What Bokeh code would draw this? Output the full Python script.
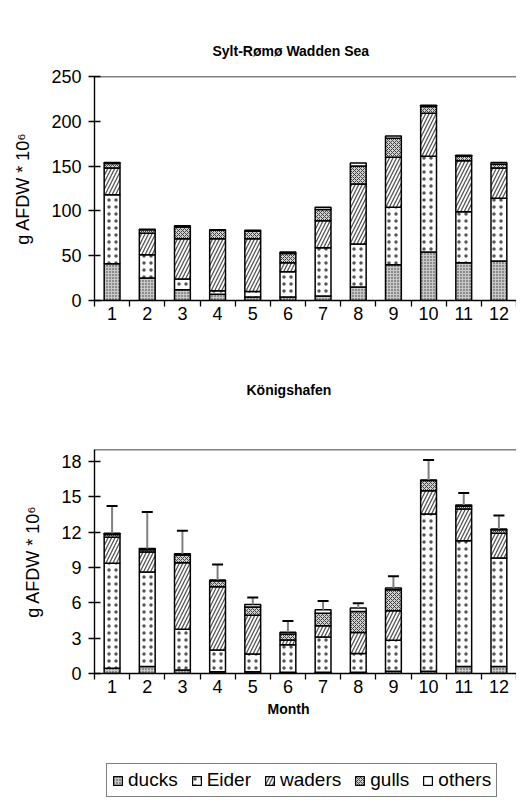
from bokeh.plotting import figure
from bokeh.models import (ColumnDataSource, Range1d, FixedTicker, Title,
                          Span, Legend, LegendItem, Whisker, TeeHead)
from bokeh.layouts import column
from bokeh.embed import file_html
from bokeh.resources import INLINE

months = [1, 2, 3, 4, 5, 6, 7, 8, 9, 10, 11, 12]
groups = ["ducks", "Eider", "waders", "gulls", "others"]

# Sylt-Rømø Wadden Sea (g AFDW * 10^6)
top_ducks = [41, 25, 12, 7, 4, 4, 5, 15, 40, 54, 42, 44]
top_eider = [77, 26, 12, 4, 6, 28, 54, 48, 64, 107, 57, 70]
top_waders = [30, 24, 45, 58, 59, 10, 30, 67, 56, 48, 57, 34]
top_gulls = [5, 4, 13, 9.5, 8.5, 10.5, 12.5, 20, 21, 7.5, 5, 4]
top_others = [1, 0.5, 1.5, 0.5, 1, 1.5, 2.5, 3.5, 2.5, 1.5, 1, 2]

# Königshafen (g AFDW * 10^6)
bot_ducks = [0.45, 0.6, 0.3, 0.15, 0.15, 0.1, 0.1, 0.1, 0.2, 0.2, 0.6, 0.6]
bot_eider = [8.9, 8.0, 3.45, 1.85, 1.5, 2.34, 3.0, 1.6, 2.63, 13.33, 10.66, 9.2]
bot_waders = [2.2, 1.7, 5.65, 5.36, 3.3, 0.4, 0.95, 1.78, 2.49, 1.97, 2.69, 2.1]
bot_gulls = [0.25, 0.2, 0.65, 0.5, 0.7, 0.5, 1.05, 1.78, 1.78, 0.86, 0.25, 0.3]
bot_others = [0.1, 0.1, 0.1, 0.07, 0.2, 0.15, 0.3, 0.29, 0.15, 0.06, 0.1, 0.05]
bot_sd = [2.3, 3.1, 1.95, 1.32, 0.6, 0.96, 0.75, 0.4, 1.0, 1.68, 1.0, 1.15]

top_ticks = [0, 50, 100, 150, 200, 250]
bot_ticks = [0, 3, 6, 9, 12, 15, 18]

FONT = "Liberation Sans"
fills = ["#c8c8c8", "white", "white", "#cfcfcf", "white"]
hatches = ["dot", "dot", "right_diagonal_line", "diagonal_cross", " "]
hatch_colors = ["#333333", "#555555", "#555555", "#444444", "black"]
hatch_scales = [3, 7, 7, 4, 12]
hatch_weights = [1.2, 0.7, 1.3, 1.0, 1.0]
style = dict(fill_color=fills, hatch_pattern=hatches, hatch_color=hatch_colors,
             hatch_scale=hatch_scales, hatch_weight=hatch_weights)

xs = [m - 0.5 for m in months]
bounds = [0] + months


def make_fig(height, ymax, ticks, vals, border_top, border_bottom):
    p = figure(width=516, height=height, output_backend="svg", toolbar_location=None,
               x_range=Range1d(0, 12), y_range=Range1d(0, ymax),
               min_border_left=94, min_border_right=0,
               min_border_top=border_top, min_border_bottom=border_bottom)
    p.outline_line_color = None
    p.grid.visible = False
    data = dict(x=xs)
    for g, v in zip(groups, vals):
        data[g] = v
    src = ColumnDataSource(data)
    rs = p.vbar_stack(groups, x="x", width=0.45, source=src,
                      line_color="black", line_width=1.5, **style)
    xa = p.xaxis[0]
    xa.ticker = FixedTicker(ticks=xs, minor_ticks=bounds)
    xa.major_label_overrides = {c: str(m) for c, m in zip(xs, months)}
    xa.major_tick_out = 0
    xa.major_tick_in = 0
    xa.minor_tick_out = 6
    xa.minor_tick_in = 0
    xa.minor_tick_line_color = "black"
    xa.minor_tick_line_width = 1.3
    xa.major_label_standoff = 0
    ya = p.yaxis[0]
    ya.ticker = FixedTicker(ticks=ticks)
    ya.major_tick_in = 6
    ya.major_tick_out = 6
    ya.minor_tick_out = 0
    ya.minor_tick_in = 0
    ya.major_label_standoff = 7
    ya.axis_label = "g AFDW * 10⁶"
    ya.axis_label_text_font_style = "normal"
    ya.axis_label_standoff = 15
    for ax in (xa, ya):
        ax.axis_line_color = "black"
        ax.axis_line_width = 1.4
        ax.major_tick_line_color = "black"
        ax.major_tick_line_width = 1.3
        ax.major_label_text_font = FONT
        ax.major_label_text_font_size = "18px"
        ax.major_label_text_color = "black"
        ax.axis_label_text_font = FONT
        ax.axis_label_text_font_size = "18px"
        ax.axis_label_text_color = "black"
    p.add_layout(Span(location=ymax, dimension="width", line_color="black", line_width=1.3))
    return p, rs, src


def title(text, offset, standoff):
    return Title(text=text, align="left", offset=offset, standoff=standoff,
                 vertical_align="bottom",
                 text_font=FONT, text_font_size="14px", text_font_style="bold",
                 text_color="black")


# Top chart
p1, rs1, src1 = make_fig(328, 250, top_ticks,
                         [top_ducks, top_eider, top_waders, top_gulls, top_others], 76, 28)
p1.add_layout(title("Sylt-Rømø Wadden Sea", 118, 36), "above")

# Bottom chart
p2, rs2, src2 = make_fig(424, 19, bot_ticks,
                         [bot_ducks, bot_eider, bot_waders, bot_gulls, bot_others], 121, 79)
totals = [a + b + c + d + e for a, b, c, d, e in zip(bot_ducks, bot_eider, bot_waders, bot_gulls, bot_others)]
upper = [t + s for t, s in zip(totals, bot_sd)]
wsrc = ColumnDataSource(dict(x=xs, lower=totals, upper=upper))
wh = Whisker(source=wsrc, base="x", lower="lower", upper="upper",
             line_color="#808080", line_width=2,
             upper_head=TeeHead(size=11, line_color="black", line_width=2),
             lower_head=None, level="overlay")
p2.add_layout(wh)
p2.add_layout(title("Königshafen", 152, 103), "above")
p2.add_layout(title("Month", 173, 6), "below")

# Legend strip (legend samples only; the off-range renderers draw nothing visible)
p3 = figure(width=516, height=48, output_backend="svg", toolbar_location=None,
            x_range=Range1d(0, 1), y_range=Range1d(0, 1),
            x_axis_location=None, y_axis_location=None,
            min_border_left=0, min_border_right=0, min_border_top=0, min_border_bottom=0)
p3.outline_line_color = None
p3.grid.visible = False
legend_src = ColumnDataSource(dict(x=[-5.0], top=[0.0]))
leg_rs = []
for i, g in enumerate(groups):
    r = p3.vbar(x="x", top="top", width=0.1, source=legend_src, line_color="black", line_width=1.2,
                fill_color=fills[i], hatch_pattern=hatches[i], hatch_color=hatch_colors[i],
                hatch_scale=hatch_scales[i], hatch_weight=hatch_weights[i])
    leg_rs.append(r)
items = [LegendItem(label=g, renderers=[r]) for g, r in zip(groups, leg_rs)]
legend = Legend(items=items, orientation="horizontal", location=(12, 3),
                border_line_color="black", border_line_width=1, background_fill_color="white",
                label_text_font=FONT, label_text_font_size="19px", label_text_color="black",
                glyph_width=11, glyph_height=11, label_standoff=5, spacing=13,
                padding=5, margin=0, label_height=20)
p3.add_layout(legend, "center")

layout = column(p1, p2, p3, spacing=0)
open("out.html", "w").write(file_html(layout, INLINE))
